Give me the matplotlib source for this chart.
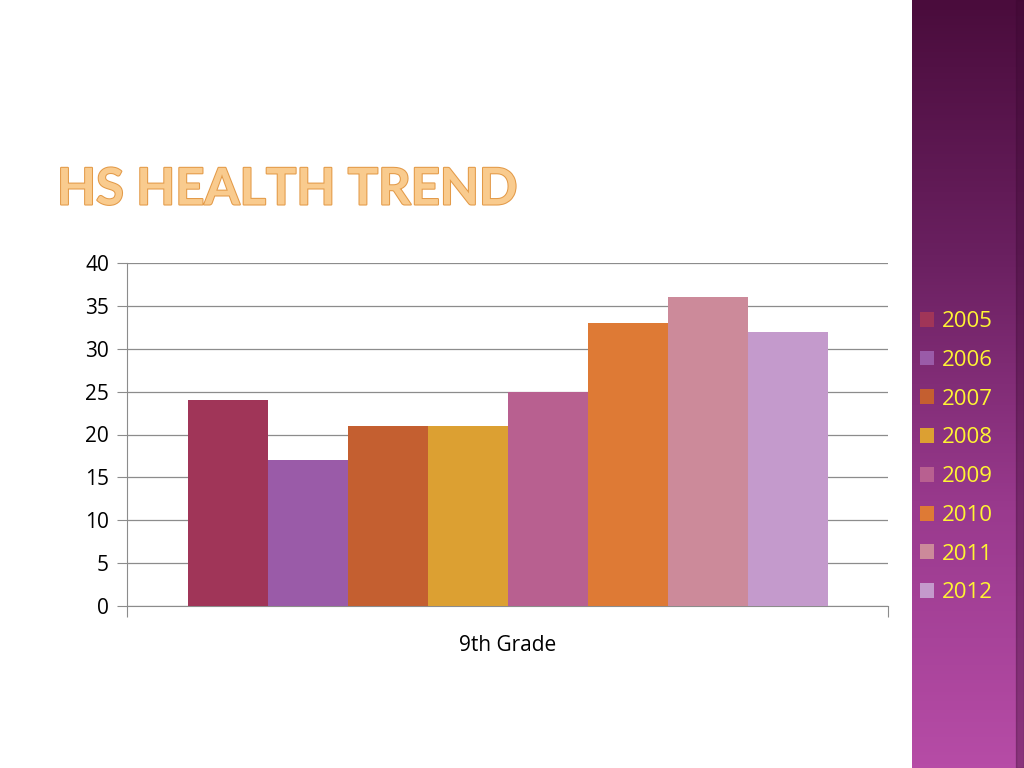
import numpy as np
import matplotlib.pyplot as plt
import matplotlib.patheffects as pe
from matplotlib.colors import LinearSegmentedColormap

# data
years = ["2005", "2006", "2007", "2008", "2009", "2010", "2011", "2012"]
values = [24, 17, 21, 21, 25, 33, 36, 32]
category = "9th Grade"
colors = ["#A03558", "#9A5BA8", "#C45F30", "#DCA032",
          "#B86090", "#DE7A35", "#CC8A9A", "#C49ACC"]

W, H = 1024, 768
fig = plt.figure(figsize=(W / 100, H / 100), dpi=100)
fig.patch.set_facecolor("white")
plt.rcParams['font.family'] = ['Open Sans', 'DejaVu Sans']

# purple side bar
side = fig.add_axes([912 / W, 0, 112 / W, 1])
grad = np.linspace(0, 1, 256).reshape(-1, 1)
cmap = LinearSegmentedColormap.from_list("side", ["#4A0C3C", "#6A2060", "#9A3A8E", "#B64CA6"])
side.imshow(grad, aspect="auto", cmap=cmap, extent=[0, 1, 1, 0])
side.axvspan(0.93, 1.0, color="#3A0830", alpha=0.35)
side.set_xlim(0, 1)
side.set_ylim(1, 0)
side.axis("off")

# title
fig.text(57 / W, 1 - 190 / H, "HS HEALTH TREND", fontsize=36.5, fontweight="bold",
         color="#F9CB8E", va="center", ha="left", family=["Lato", "DejaVu Sans"],
         path_effects=[pe.withStroke(linewidth=1.5, foreground="#E39A48")])

# chart
ax = fig.add_axes([127 / W, 1 - 606 / H, 761 / W, 343 / H])
n = len(values)
group = 640 / 761
bw = group / n
xs = -group / 2 + bw / 2 + np.arange(n) * bw
bars = []
for x, v, c, y in zip(xs, values, colors, years):
    bars.append(ax.bar(x, v, width=bw, color=c, label=y, zorder=3))

ax.set_xlim(-0.5, 0.5)
ax.set_ylim(0, 40)
ax.set_yticks(range(0, 41, 5))
ax.yaxis.grid(True, color="#8C8C8C", linewidth=0.9, zorder=0)
ax.set_xticks([-0.5, 0.5])
ax.set_xticklabels([])
ax.tick_params(axis="x", length=8, color="#8C8C8C", direction="out")
ax.tick_params(axis="y", length=7, color="#8C8C8C", labelsize=15, pad=6)
for s in ["top", "right"]:
    ax.spines[s].set_visible(False)
for s in ["left", "bottom"]:
    ax.spines[s].set_color("#8C8C8C")
ax.text(0, -4.6, category, ha="center", va="center", fontsize=15)

# legend on the side bar
leg = fig.legend(handles=[b for b in bars], labels=years,
                 loc="upper left", bbox_to_anchor=(900 / W, 1 - 291 / H),
                 frameon=False, fontsize=16, handlelength=0.65, handleheight=0.65,
                 handletextpad=0.35, labelspacing=0.8)
for t in leg.get_texts():
    t.set_color("#FFF433")

fig.savefig("out.png", dpi=100)
